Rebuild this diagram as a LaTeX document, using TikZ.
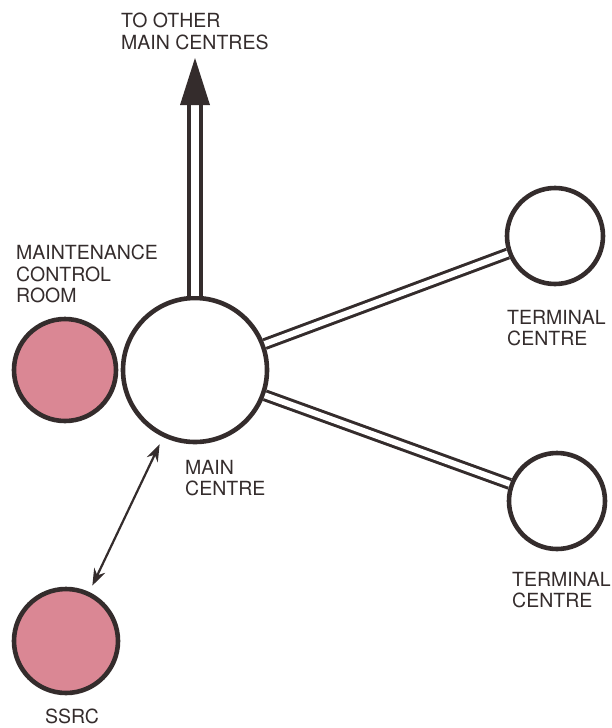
\documentclass[tikz,border=0pt]{standalone}
\usepackage{fontspec}
\setmainfont{TeX Gyre Heros}
\usetikzlibrary{calc,arrows.meta}

\definecolor{ink}{RGB}{52,44,44}
\definecolor{rose}{RGB}{218,135,148}

\tikzset{
  centre/.style={circle, draw=ink, line width=4.6pt, fill=white, inner sep=0pt},
  station/.style={centre, fill=rose},
  trunk/.style={draw=ink, line width=3pt, double=white, double distance=6pt},
  shaft/.style={draw=ink, line width=3.4pt, double=white, double distance=8.5pt},
  link/.style={draw=ink, line width=2.2pt, {Stealth[length=17pt,width=12pt]}-{Stealth[length=17pt,width=12pt]},
    shorten <=8pt, shorten >=7pt},
  label/.style={inner sep=0pt, align=left, font=\fontsize{19.5}{21.5}\selectfont, text=ink}
}

\begin{document}
\begin{tikzpicture}[x=1pt, y=-1pt]
  \useasboundingbox (0,0) rectangle (612,728);

  \node[centre, minimum size=144pt]  (main)  at (195,370) {};
  \node[station, minimum size=102pt] (mcr)   at (65,370)  {};
  \node[station, minimum size=104pt] (ssrc)  at (66,641)  {};
  \node[centre, minimum size=96pt]   (termA) at (555,236) {};
  \node[centre, minimum size=96pt]   (termB) at (557,501) {};

  \coordinate (uptip) at (main.north |- 0,58);

  % connections
  \draw[trunk] (main) -- (termA);
  \draw[trunk] (main) -- (termB);
  \draw[shaft] (main.north) -- ($(uptip)+(0,46)$);
  \fill[ink] (uptip) -- ++(-15,47) -- ++(30,0) -- cycle;
  \draw[link] (main) -- (ssrc);

  % labels
  \node[label, anchor=north west] (lblup)   at (121,13)  {TO OTHER\\MAIN CENTRES};
  \node[label, anchor=north west] (lblmcr)  at (16,245)  {MAINTENANCE\\CONTROL\\ROOM};
  \node[label, anchor=north west] (lblmain) at (185,460) {MAIN\\CENTRE};
  \node[label, anchor=north west] (lblA)    at (507,310) {TERMINAL\\CENTRE};
  \node[label, anchor=north west] (lblB)    at (512,572) {TERMINAL\\CENTRE};
  \node[label, anchor=north]      (lblssrc) at (72,709)  {SSRC};
\end{tikzpicture}
\end{document}
